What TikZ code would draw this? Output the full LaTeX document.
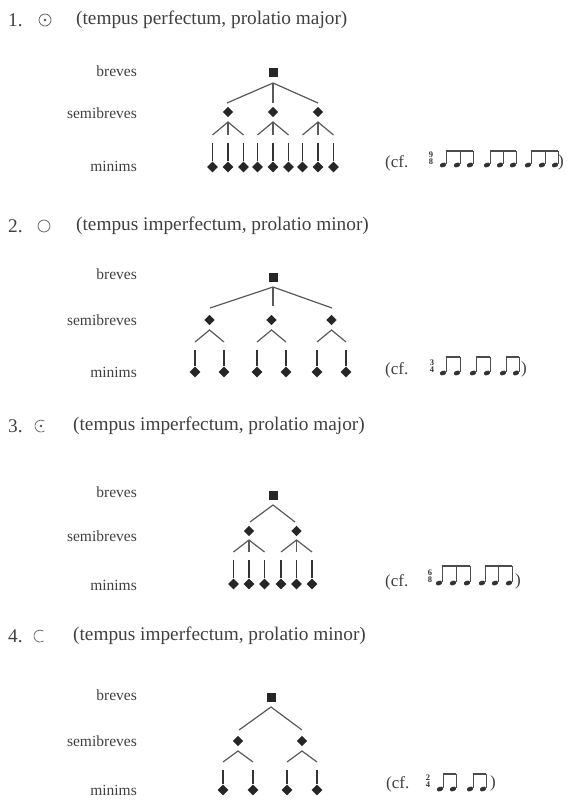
\documentclass[tikz,border=0pt]{standalone}
\usepackage{fontspec}
\setmainfont{Liberation Serif}
\usetikzlibrary{shapes.geometric,positioning}

\begin{document}
\begin{tikzpicture}[x=1pt,y=-1pt]
\tikzset{
  headline/.style={anchor=west,inner sep=0pt,text=black!75,font=\fontsize{19.3}{22}\selectfont},
  cftext/.style={inner sep=0pt,text=black!75,font=\fontsize{17}{20}\selectfont},
  rowlabel/.style={anchor=east,inner sep=0pt,text=black!75,font=\fontsize{15.5}{18}\selectfont},
  brevis/.style={rectangle,fill=black!85,minimum size=9pt,inner sep=0pt},
  semibrevis/.style={diamond,aspect=1,fill=black!85,minimum size=10.5pt,inner sep=0pt},
  minima/.style={diamond,aspect=1,fill=black!85,minimum size=11pt,inner sep=0pt},
  branch/.style={draw=black!65,line width=1.2pt},
  minimstem/.style={draw=black!80,line width=1.6pt,shorten <=8pt},
  sign/.style={draw=black!65,line width=0.7pt},
  notehead/.style={ellipse,fill=black!80,minimum width=6.5pt,minimum height=4.6pt,inner sep=0pt,rotate=20},
  notestem/.style={draw=black!70,line width=0.6pt},
  beam/.style={draw=black!70,line width=1.3pt},
  timesig/.style={inner sep=0pt,align=center,text=black!80,font=\fontsize{8.5}{7.5}\selectfont\bfseries}
}
\useasboundingbox (0,0) rectangle (566,802);

% 1. tempus perfectum, prolatio major
\node[headline] (num1) at (8,20) {1.};
\node[circle,sign,minimum size=12pt,inner sep=0pt] (sig1) at (45,20) {};
\fill[black!70] (sig1.center) circle (1.4);
\node[headline] (head1) at (76,20) {(tempus perfectum, prolatio major)};
\node[rowlabel] (lb1) at (137,71) {breves};
\node[rowlabel] (ls1) at (137,113) {semibreves};
\node[rowlabel] (lm1) at (137,166) {minims};
\node[brevis] (b1) at (273,73) {};
\coordinate (j1) at (273,83);
\coordinate (e1a) at (227,103);
\coordinate (e1b) at (273,103);
\coordinate (e1c) at (318,103);
\node[semibrevis] (s1a) at (228,112) {};
\node[semibrevis] (s1b) at (273,112) {};
\node[semibrevis] (s1c) at (318,112) {};
\coordinate (c1a) at (228,122);
\coordinate (c1b) at (273,122);
\coordinate (c1c) at (318,122);
\coordinate (c1al) at (212.5,135); \coordinate (c1am) at (228,135); \coordinate (c1ar) at (243.5,135);
\coordinate (c1bl) at (257.5,135); \coordinate (c1bm) at (273,135); \coordinate (c1br) at (288.5,135);
\coordinate (c1cl) at (302.5,135); \coordinate (c1cm) at (318,135); \coordinate (c1cr) at (333.5,135);
\node[minima] (m1a1) at (212.5,167) {};
\node[minima] (m1a2) at (228,167) {};
\node[minima] (m1a3) at (243.5,167) {};
\node[minima] (m1b1) at (257.5,167) {};
\node[minima] (m1b2) at (273,167) {};
\node[minima] (m1b3) at (288.5,167) {};
\node[minima] (m1c1) at (302.5,167) {};
\node[minima] (m1c2) at (318,167) {};
\node[minima] (m1c3) at (333.5,167) {};
\draw[branch] (e1a) -- (j1) -- (e1c);
\draw[branch] (j1) -- (e1b);
\draw[branch] (c1al) -- (c1a) -- (c1ar);
\draw[branch] (c1bl) -- (c1b) -- (c1br);
\draw[branch] (c1cl) -- (c1c) -- (c1cr);
\draw[branch] (c1a) -- (c1am);
\draw[branch] (c1b) -- (c1bm);
\draw[branch] (c1c) -- (c1cm);
\draw[minimstem] (c1al) -- (m1a1);
\draw[minimstem] (c1am) -- (m1a2);
\draw[minimstem] (c1ar) -- (m1a3);
\draw[minimstem] (c1bl) -- (m1b1);
\draw[minimstem] (c1bm) -- (m1b2);
\draw[minimstem] (c1br) -- (m1b3);
\draw[minimstem] (c1cl) -- (m1c1);
\draw[minimstem] (c1cm) -- (m1c2);
\draw[minimstem] (c1cr) -- (m1c3);
% cf. 9/8
\node[cftext,anchor=west] (cf1) at (385,163) {(cf.};
\node[timesig] (ts1) at (431,158) {9\\8};
\coordinate (beam1) at (0,151);
\node[notehead] (h1a) at (443,165) {};
\node[notehead] (h1b) at (457,165) {};
\node[notehead] (h1c) at (470,165) {};
\node[notehead] (h1d) at (487,165) {};
\node[notehead] (h1e) at (500,165) {};
\node[notehead] (h1f) at (513,165) {};
\node[notehead] (h1g) at (528,165) {};
\node[notehead] (h1h) at (542,165) {};
\node[notehead] (h1i) at (555,165) {};
\draw[notestem] (h1a.east) -- (h1a.east |- beam1);
\draw[notestem] (h1b.east) -- (h1b.east |- beam1);
\draw[notestem] (h1c.east) -- (h1c.east |- beam1);
\draw[notestem] (h1d.east) -- (h1d.east |- beam1);
\draw[notestem] (h1e.east) -- (h1e.east |- beam1);
\draw[notestem] (h1f.east) -- (h1f.east |- beam1);
\draw[notestem] (h1g.east) -- (h1g.east |- beam1);
\draw[notestem] (h1h.east) -- (h1h.east |- beam1);
\draw[notestem] (h1i.east) -- (h1i.east |- beam1);
\draw[beam] (h1a.east |- beam1) -- (h1c.east |- beam1);
\draw[beam] (h1d.east |- beam1) -- (h1f.east |- beam1);
\draw[beam] (h1g.east |- beam1) -- (h1i.east |- beam1);
\node[cftext] (cp1) at (561,162) {)};

% 2. tempus imperfectum, prolatio minor
\node[headline] (num2) at (8,226) {2.};
\node[circle,sign,minimum size=12pt,inner sep=0pt] (sig2) at (44,226) {};
\node[headline] (head2) at (76,226) {(tempus imperfectum, prolatio minor)};
\node[rowlabel] (lb2) at (137,274) {breves};
\node[rowlabel] (ls2) at (137,320) {semibreves};
\node[rowlabel] (lm2) at (137,372) {minims};
\node[brevis] (b2) at (273,277) {};
\coordinate (j2) at (273,287);
\coordinate (e2a) at (210,308);
\coordinate (e2b) at (273,306);
\coordinate (e2c) at (332,308);
\node[semibrevis] (s2a) at (209.5,320) {};
\node[semibrevis] (s2b) at (271.5,320) {};
\node[semibrevis] (s2c) at (331.5,320) {};
\coordinate (c2a) at (209.5,330);
\coordinate (c2b) at (271.5,330);
\coordinate (c2c) at (331.5,330);
\coordinate (c2al) at (195,342); \coordinate (c2ar) at (224,342);
\coordinate (c2bl) at (257,342); \coordinate (c2br) at (286,342);
\coordinate (c2cl) at (317,342); \coordinate (c2cr) at (346,342);
\node[minima] (m2a1) at (195,372) {};
\node[minima] (m2a2) at (224,372) {};
\node[minima] (m2b1) at (257,372) {};
\node[minima] (m2b2) at (286,372) {};
\node[minima] (m2c1) at (317,372) {};
\node[minima] (m2c2) at (346,372) {};
\draw[branch] (e2a) -- (j2) -- (e2c);
\draw[branch] (j2) -- (e2b);
\draw[branch] (c2al) -- (c2a) -- (c2ar);
\draw[branch] (c2bl) -- (c2b) -- (c2br);
\draw[branch] (c2cl) -- (c2c) -- (c2cr);
\draw[minimstem] (c2al) -- (m2a1);
\draw[minimstem] (c2ar) -- (m2a2);
\draw[minimstem] (c2bl) -- (m2b1);
\draw[minimstem] (c2br) -- (m2b2);
\draw[minimstem] (c2cl) -- (m2c1);
\draw[minimstem] (c2cr) -- (m2c2);
% cf. 3/4
\node[cftext,anchor=west] (cf2) at (385,370) {(cf.};
\node[timesig] (ts2) at (432,366) {3\\4};
\coordinate (beam2) at (0,357);
\node[notehead] (h2a) at (443,373) {};
\node[notehead] (h2b) at (457,373) {};
\node[notehead] (h2c) at (473,373) {};
\node[notehead] (h2d) at (487,373) {};
\node[notehead] (h2e) at (503,373) {};
\node[notehead] (h2f) at (516,373) {};
\draw[notestem] (h2a.east) -- (h2a.east |- beam2);
\draw[notestem] (h2b.east) -- (h2b.east |- beam2);
\draw[notestem] (h2c.east) -- (h2c.east |- beam2);
\draw[notestem] (h2d.east) -- (h2d.east |- beam2);
\draw[notestem] (h2e.east) -- (h2e.east |- beam2);
\draw[notestem] (h2f.east) -- (h2f.east |- beam2);
\draw[beam] (h2a.east |- beam2) -- (h2b.east |- beam2);
\draw[beam] (h2c.east |- beam2) -- (h2d.east |- beam2);
\draw[beam] (h2e.east |- beam2) -- (h2f.east |- beam2);
\node[cftext] (cp2) at (524,369) {)};

% 3. tempus imperfectum, prolatio major
\node[headline] (num3) at (8,426) {3.};
\coordinate (sig3) at (41,426);
\draw[sign] ([shift={(55:6)}]sig3) arc[start angle=55,end angle=305,radius=6];
\fill[black!70] (sig3) circle (1.4);
\node[headline] (head3) at (73,426) {(tempus imperfectum, prolatio major)};
\node[rowlabel] (lb3) at (137,492) {breves};
\node[rowlabel] (ls3) at (137,536) {semibreves};
\node[rowlabel] (lm3) at (137,585) {minims};
\node[brevis] (b3) at (273,495) {};
\coordinate (j3) at (273,505);
\coordinate (e3a) at (250,522);
\coordinate (e3b) at (295,522);
\node[semibrevis] (s3a) at (249,531) {};
\node[semibrevis] (s3b) at (296.5,531) {};
\coordinate (c3a) at (249,540);
\coordinate (c3b) at (296.5,540);
\coordinate (c3al) at (233.5,552); \coordinate (c3am) at (249,552); \coordinate (c3ar) at (264.5,552);
\coordinate (c3bl) at (281,552); \coordinate (c3bm) at (296.5,552); \coordinate (c3br) at (312,552);
\node[minima] (m3a1) at (233.5,584) {};
\node[minima] (m3a2) at (249,584) {};
\node[minima] (m3a3) at (264.5,584) {};
\node[minima] (m3b1) at (281,584) {};
\node[minima] (m3b2) at (296.5,584) {};
\node[minima] (m3b3) at (312,584) {};
\draw[branch] (e3a) -- (j3) -- (e3b);
\draw[branch] (c3al) -- (c3a) -- (c3ar);
\draw[branch] (c3bl) -- (c3b) -- (c3br);
\draw[branch] (c3a) -- (c3am);
\draw[branch] (c3b) -- (c3bm);
\draw[minimstem] (c3al) -- (m3a1);
\draw[minimstem] (c3am) -- (m3a2);
\draw[minimstem] (c3ar) -- (m3a3);
\draw[minimstem] (c3bl) -- (m3b1);
\draw[minimstem] (c3bm) -- (m3b2);
\draw[minimstem] (c3br) -- (m3b3);
% cf. 6/8
\node[cftext,anchor=west] (cf3) at (385,582) {(cf.};
\node[timesig] (ts3) at (430,576) {6\\8};
\coordinate (beam3) at (0,566);
\node[notehead] (h3a) at (439,583) {};
\node[notehead] (h3b) at (453,583) {};
\node[notehead] (h3c) at (467,583) {};
\node[notehead] (h3d) at (482,583) {};
\node[notehead] (h3e) at (495,583) {};
\node[notehead] (h3f) at (509,583) {};
\draw[notestem] (h3a.east) -- (h3a.east |- beam3);
\draw[notestem] (h3b.east) -- (h3b.east |- beam3);
\draw[notestem] (h3c.east) -- (h3c.east |- beam3);
\draw[notestem] (h3d.east) -- (h3d.east |- beam3);
\draw[notestem] (h3e.east) -- (h3e.east |- beam3);
\draw[notestem] (h3f.east) -- (h3f.east |- beam3);
\draw[beam] (h3a.east |- beam3) -- (h3c.east |- beam3);
\draw[beam] (h3d.east |- beam3) -- (h3f.east |- beam3);
\node[cftext] (cp3) at (518,581) {)};

% 4. tempus imperfectum, prolatio minor
\node[headline] (num4) at (8,636) {4.};
\coordinate (sig4) at (40,636);
\draw[sign] ([shift={(55:6)}]sig4) arc[start angle=55,end angle=305,radius=6];
\node[headline] (head4) at (73,636) {(tempus imperfectum, prolatio minor)};
\node[rowlabel] (lb4) at (137,695) {breves};
\node[rowlabel] (ls4) at (137,741) {semibreves};
\node[rowlabel] (lm4) at (137,790) {minims};
\node[brevis] (b4) at (271,697) {};
\coordinate (j4) at (271,707);
\coordinate (e4a) at (239,730);
\coordinate (e4b) at (302,730);
\node[semibrevis] (s4a) at (238,741) {};
\node[semibrevis] (s4b) at (302,741) {};
\coordinate (c4a) at (238,751);
\coordinate (c4b) at (302,751);
\coordinate (c4al) at (223,762); \coordinate (c4ar) at (253,762);
\coordinate (c4bl) at (287,762); \coordinate (c4br) at (317,762);
\node[minima] (m4a1) at (223,790) {};
\node[minima] (m4a2) at (253,790) {};
\node[minima] (m4b1) at (287,790) {};
\node[minima] (m4b2) at (317,790) {};
\draw[branch] (e4a) -- (j4) -- (e4b);
\draw[branch] (c4al) -- (c4a) -- (c4ar);
\draw[branch] (c4bl) -- (c4b) -- (c4br);
\draw[minimstem] (c4al) -- (m4a1);
\draw[minimstem] (c4ar) -- (m4a2);
\draw[minimstem] (c4bl) -- (m4b1);
\draw[minimstem] (c4br) -- (m4b2);
% cf. 2/4
\node[cftext,anchor=west] (cf4) at (386,784) {(cf.};
\node[timesig] (ts4) at (428,781) {2\\4};
\coordinate (beam4) at (0,774);
\node[notehead] (h4a) at (440,789) {};
\node[notehead] (h4b) at (453,789) {};
\node[notehead] (h4c) at (470,789) {};
\node[notehead] (h4d) at (483,789) {};
\draw[notestem] (h4a.east) -- (h4a.east |- beam4);
\draw[notestem] (h4b.east) -- (h4b.east |- beam4);
\draw[notestem] (h4c.east) -- (h4c.east |- beam4);
\draw[notestem] (h4d.east) -- (h4d.east |- beam4);
\draw[beam] (h4a.east |- beam4) -- (h4b.east |- beam4);
\draw[beam] (h4c.east |- beam4) -- (h4d.east |- beam4);
\node[cftext] (cp4) at (493,783) {)};
\end{tikzpicture}
\end{document}
